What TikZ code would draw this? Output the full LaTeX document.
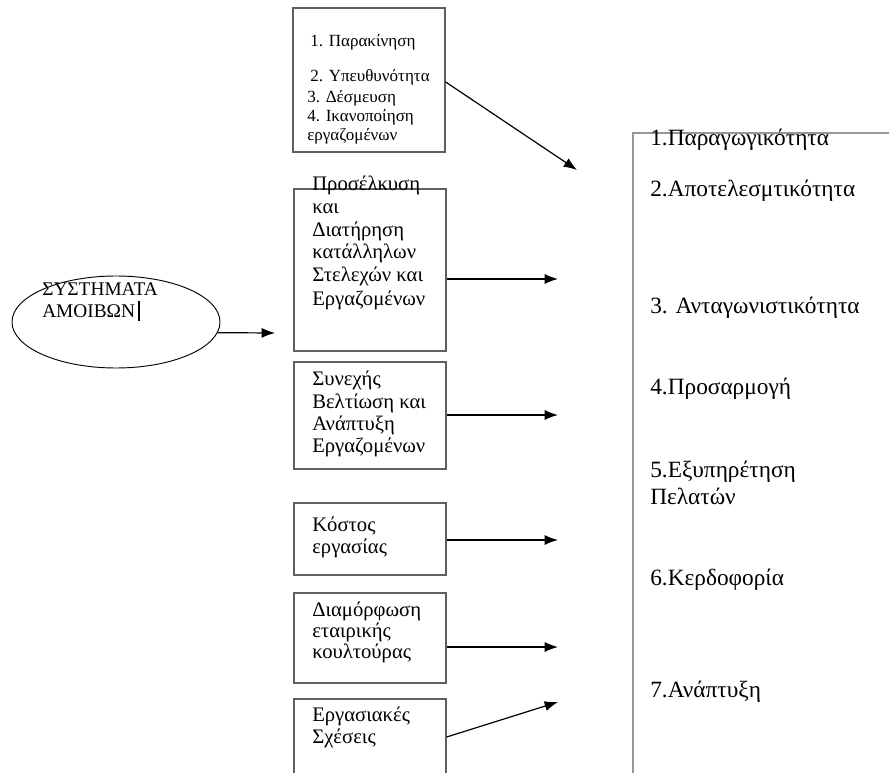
\documentclass[tikz,border=0pt]{standalone}
\usepackage{fontspec}
\setmainfont{Liberation Serif}
\usetikzlibrary{arrows.meta,shapes.geometric,fit}
\definecolor{boxgray}{RGB}{95,95,95}
\definecolor{brkgray}{RGB}{150,150,150}
\begin{document}
\begin{tikzpicture}[x=0.75pt,y=-0.75pt,
  boxst/.style={draw=boxgray,line width=1pt,rectangle,inner sep=0pt},
  bt/.style={anchor=base west,inner sep=0pt,font=\fontsize{15.5}{18}\selectfont},
  et/.style={anchor=base west,inner sep=0pt,font=\fontsize{14.5}{17}\selectfont},
  st/.style={anchor=base west,inner sep=0pt,font=\fontsize{12.8}{15}\selectfont},
  rt/.style={anchor=base west,inner sep=0pt,font=\fontsize{17.5}{20}\selectfont},
  arr/.style={-{Latex[length=10pt,width=7.5pt]},line width=0.9pt,black}]
\useasboundingbox (0,0) rectangle (889,773);

% boxes
\node[boxst,fit={(293,8) (445,152)}] (b1) {};
\node[boxst,fit={(294,189) (446,351)}] (b2) {};
\node[boxst,fit={(294,362) (446,469)}] (b3) {};
\node[boxst,fit={(294,503) (446,575)}] (b4) {};
\node[boxst,fit={(294,593) (446,683)}] (b5) {};
\node[boxst,fit={(294,699) (446,790)}] (b6) {};

% ellipse
\node[ellipse,draw,line width=0.7pt,minimum width=156pt,minimum height=69pt,inner sep=0pt] (ell) at (116,322) {};
\node[et] (e1) at (42,296) {ΣΥΣΤΗΜΑΤΑ};
\node[et] (e2) at (42,318) {ΑΜΟΙΒΩΝ\,\rule[-0.15em]{1.6pt}{1.05em}};

% box 1 text
\node[st] (b1a) at (310,47) {1. Παρακίνηση};
\node[st] (b1b) at (310,82) {2. Υπευθυνότητα};
\node[st] (b1c) at (307,103) {3. Δέσμευση};
\node[st] (b1d) at (307,122) {4. Ικανοποίηση};
\node[st] (b1e) at (307,141) {εργαζομένων};

% box 2 text
\node[bt] (b2a) at (312,191) {Προσέλκυση};
\node[bt] (b2b) at (312,214) {και};
\node[bt] (b2c) at (312,237) {Διατήρηση};
\node[bt] (b2d) at (312,259) {κατάλληλων};
\node[bt] (b2e) at (312,282) {Στελεχών και};
\node[bt] (b2f) at (312,306) {Εργαζομένων};

% box 3 text
\node[bt] (b3a) at (312,386) {Συνεχής};
\node[bt] (b3b) at (312,409) {Βελτίωση και};
\node[bt] (b3c) at (312,431) {Ανάπτυξη};
\node[bt] (b3d) at (312,453) {Εργαζομένων};

% box 4 text
\node[bt] (b4a) at (312,531) {Κόστος};
\node[bt] (b4b) at (312,553) {εργασίας};

% box 5 text
\node[bt] (b5a) at (312,616) {Διαμόρφωση};
\node[bt] (b5b) at (312,637) {εταιρικής};
\node[bt] (b5c) at (312,658) {κουλτούρας};

% box 6 text
\node[bt] (b6a) at (312,721) {Εργασιακές};
\node[bt] (b6b) at (312,743) {Σχέσεις};

% bracket on the right
\coordinate (k1) at (633,780);
\coordinate (k2) at (633,133);
\coordinate (k3) at (895,133);
\draw[brkgray,line width=1.2pt] (k1) -- (k2) -- (k3);

% right texts
\node[rt] (r1) at (650,146) {1.Παραγωγικότητα};
\node[rt] (r2) at (650,197) {2.Αποτελεσμτικότητα};
\node[rt] (r3) at (650,314) {3. Ανταγωνιστικότητα};
\node[rt] (r4) at (650,395) {4.Προσαρμογή};
\node[rt] (r5) at (650,477) {5.Εξυπηρέτηση};
\node[rt] (r5b) at (650,504) {Πελατών};
\node[rt] (r6) at (650,585) {6.Κερδοφορία};
\node[rt] (r7) at (650,697) {7.Ανάπτυξη};

% arrow targets
\coordinate (t1) at (577,170);
\coordinate (t2) at (558,279);
\coordinate (t3) at (558,415);
\coordinate (t4) at (558,540);
\coordinate (t5) at (558,647);
\coordinate (t6) at (558,702);
\coordinate (te) at (275,333);
\coordinate (s1) at (446,82);
\coordinate (s6) at (446,737);

% arrows
\draw[arr] (b1.east |- s1) -- (t1);
\draw[arr] (b2.east |- t2) -- (t2);
\draw[arr] (b3.east |- t3) -- (t3);
\draw[arr] (b4.east |- t4) -- (t4);
\draw[arr] (b5.east |- t5) -- (t5);
\draw[arr] (b6.east |- s6) -- (t6);
\draw[arr] (ell.-6) -- (te);
\end{tikzpicture}
\end{document}
